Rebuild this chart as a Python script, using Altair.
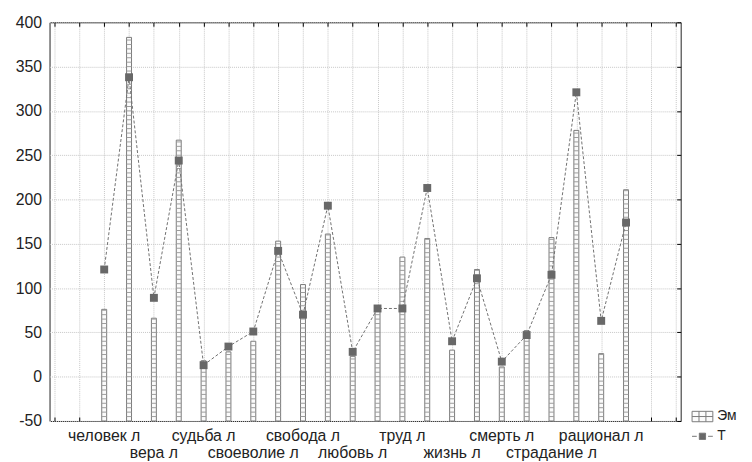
import altair as alt
import pandas as pd

# ---- data ----
labels = ["человек л", "", "вера л", "", "судьба л", "", "своеволие л", "",
          "свобода л", "", "любовь л", "", "труд л", "", "жизнь л", "",
          "смерть л", "", "страдание л", "", "рационал л", ""]
em_values = [76, 383, 66, 267, 18, 28, 40, 153, 104, 161, 23, 78,
             135, 156, 30, 121, 11, 52, 157, 278, 26, 211]
t_values = [121, 338, 89, 244, 13, 34, 51, 142, 70, 193, 28, 77,
            77, 213, 40, 111, 17, 47, 115, 321, 63, 174]
x_ticks = list(range(0, 26))
y_ticks = list(range(-50, 401, 50))

df = pd.DataFrame({
    "pos": [i + 2 for i in range(len(labels))],
    "label": labels,
    "em": em_values,
    "t": t_values,
    "row": [(i // 2) % 2 for i in range(len(labels))],
    "s1": ["Эм"] * len(labels),
    "s2": ["T"] * len(labels),
})

FONT = "Arial, Liberation Sans"
W, H = 638, 403
xs = alt.Scale(domain=[0, 25], nice=False, zero=False)
ys = alt.Scale(domain=[-50, 400], nice=False, zero=False)
GRID = "#c6c6c6"
BAR_EDGE = "#7a7a7a"

bars = alt.Chart(df).mark_bar(size=5, stroke=BAR_EDGE, strokeWidth=1).encode(
    x=alt.X("pos:Q", scale=xs, title=None,
            axis=alt.Axis(orient="bottom", values=x_ticks, grid=True, labels=False,
                          ticks=False, domain=False, gridColor=GRID, gridDash=[1, 1],
                          zindex=0)),
    y=alt.Y("em:Q", scale=ys, title=None,
            axis=alt.Axis(orient="left", values=y_ticks, grid=True, ticks=False,
                          domain=False, labelPadding=8, labelFontSize=16,
                          labelFont=FONT, labelColor="#222", gridColor=GRID,
                          gridDash=[1, 1], zindex=0,
                          labelExpr="'' + datum.value")),
    y2=alt.datum(-50),
    fill=alt.Fill("s1:N", scale=alt.Scale(domain=["Эм"], range=["#fbfbfb"]),
                  legend=alt.Legend(
                      title=None, orient="none", legendX=649, legendY=387.5,
                      symbolType="M-1,-0.5H1V0.5H-1Z M-0.333,-0.5V0.5 M0.333,-0.5V0.5 M-1,0H1",
                      symbolSize=441, symbolStrokeWidth=1,
                      symbolStrokeColor=BAR_EDGE, labelFontSize=14,
                      labelFont=FONT, labelColor="#222", labelOffset=4)),
)

# horizontal cell lines inside every bar (hatch pattern of the original)
hatch = alt.Chart(df).transform_calculate(
    h="sequence(-45, datum.em, 5)"
).transform_flatten(["h"]).mark_tick(
    orient="horizontal", size=5, thickness=1, color="#9c9c9c", opacity=1
).encode(
    x=alt.X("pos:Q", scale=xs, axis=None),
    y=alt.Y("h:Q", scale=ys, axis=None),
)

line = alt.Chart(df).mark_line(strokeDash=[3, 2], strokeWidth=1).encode(
    x=alt.X("pos:Q", scale=xs, title=None,
            axis=alt.Axis(orient="top", values=x_ticks, grid=False, labels=False,
                          domain=False, ticks=True, tickSize=4, offset=-4,
                          tickColor="#000")),
    y=alt.Y("t:Q", scale=ys, title=None,
            axis=alt.Axis(orient="right", values=y_ticks, grid=False, labels=False,
                          domain=False, ticks=True, tickSize=4, offset=-4,
                          tickColor="#000")),
    stroke=alt.Stroke("s2:N", scale=alt.Scale(domain=["T"], range=["#707070"]),
                      legend=alt.Legend(
                          title=None, orient="none", legendX=649, legendY=407.5,
                          symbolType="M-1,0H-0.55M0.55,0H1M-0.3,-0.3H0.3V0.3H-0.3Z",
                          symbolSize=441, symbolStrokeWidth=1,
                          symbolFillColor="#686868", symbolDash=[1, 0],
                          labelFontSize=14, labelFont=FONT, labelColor="#222",
                          labelOffset=4)),
)

pts = alt.Chart(df).mark_square(size=64, color="#686868", opacity=1).encode(
    x=alt.X("pos:Q", scale=xs, title=None,
            axis=alt.Axis(orient="bottom", values=x_ticks, grid=False, labels=False,
                          domain=False, ticks=True, tickSize=4, offset=-4,
                          tickColor="#000")),
    y=alt.Y("t:Q", scale=ys, axis=None),
)

txt_top = alt.Chart(df).transform_filter(
    "datum.label != '' && datum.row == 0"
).mark_text(fontSize=16, font=FONT, color="#222", baseline="alphabetic").encode(
    x=alt.X("pos:Q", scale=xs, axis=None),
    y=alt.value(423),
    text="label:N",
)

txt_bot = alt.Chart(df).transform_filter(
    "datum.label != '' && datum.row == 1"
).mark_text(fontSize=16, font=FONT, color="#222", baseline="alphabetic").encode(
    x=alt.X("pos:Q", scale=xs, axis=None),
    y=alt.value(440),
    text="label:N",
)

chart = alt.layer(bars, hatch, line, pts, txt_top, txt_bot).resolve_axis(
    x="independent", y="independent"
).properties(
    width=W, height=H,
    autosize=alt.AutoSizeParams(type="none"),
    padding={"left": 42, "top": 12, "right": 64, "bottom": 40},
    background="white",
).configure_view(stroke="#222", strokeWidth=1).configure_legend(padding=0)

chart.save("out.html", embed_options={"renderer": "svg", "actions": False})
